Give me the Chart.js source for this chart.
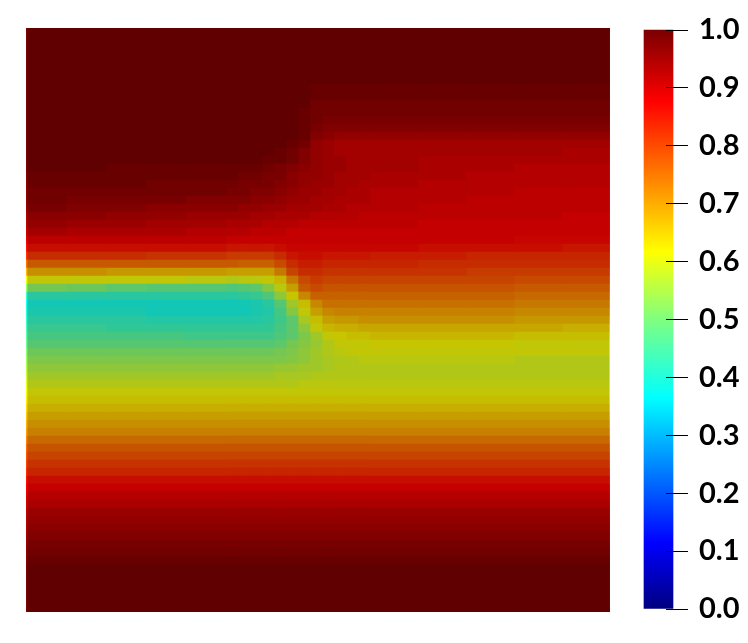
<!DOCTYPE html>
<html>
<head>
<meta charset="utf-8">
<script src="https://cdn.jsdelivr.net/npm/chart.js@4"></script>
<style>
    html, body { margin: 0; background: #fff; }
    canvas { position: absolute; }
    #field { left: 26px; top: 28px; }
    #colorBar { left: 630px; top: 10px; }
</style>
</head>
<body>
<canvas id="field" width="584" height="584"></canvas>
<canvas id="colorBar" width="118" height="620"></canvas>
<script>
// widths of the field columns, narrow ones sit on the front between left and right part
const columnWidths = [40, 40, 40, 40, 40, 12, 12, 12, 12, 12, 12, 12, 12, 12, 12, 12, 12, 48, 48, 48, 48, 48];

// field values in percent, one row per 8px band from top to bottom
const fieldRows = [
    [100,100,100,100,100,100,100,100,100,100,100,100,100,100,100,100,100,100,100,100,100,100],
    [100,100,100,100,100,100,100,100,100,100,100,100,100,100,100,100,100,100,100,100,100,100],
    [100,100,100,100,100,100,100,100,100,100,100,100,100,100,100,100,100,100,100,100,100,100],
    [100,100,100,100,100,100,100,100,100,100,100,100,100,100,100,100,100,100,100,100,100,100],
    [100,100,100,100,100,100,100,100,100,100,100,100,100,100,100,100,100,100,100,100,100,100],
    [100,100,100,100,100,100,100,100,100,100,100,100,100,100,100,100,100,100,100,100,100,100],
    [100,100,100,100,100,100,100,100,100,100,100,100,100,100,100,100,100,100,100,100,100,100],
    [100,100,100,100,100,100,100,100,100,100,100,100,99,99,99,99,99,99,99,99,99,99],
    [100,100,100,100,100,100,100,100,100,100,100,100,99,99,99,99,99,99,99,99,99,99],
    [100,100,100,100,100,100,100,100,100,100,100,100,98,98,98,98,98,98,98,98,98,98],
    [100,100,100,100,100,100,100,100,100,100,100,99,98,98,98,98,98,98,98,98,98,98],
    [100,100,100,100,100,100,100,100,100,100,100,99,98,97,97,97,97,97,97,97,97,97],
    [100,100,100,100,100,100,100,100,100,100,100,99,97,96,96,96,96,96,96,96,96,96],
    [100,100,100,100,100,100,100,100,100,100,100,99,96,95,94,94,94,94,94,94,94,94],
    [100,100,100,100,100,100,100,100,100,100,99,98,94,93,92,92,92,92,92,92,92,92],
    [100,100,100,100,100,100,100,100,100,99,98,96,94,93,92,92,92,92,92,92,92,91],
    [100,100,100,100,100,100,100,100,99,99,98,96,94,93,93,92,92,92,91,91,91,91],
    [100,100,99,99,99,99,99,99,98,97,96,95,94,93,93,92,92,92,91,91,90,90],
    [99,99,99,99,99,99,98,98,97,97,95,94,94,93,92,92,92,91,91,90,90,90],
    [99,99,99,98,98,98,97,97,97,96,95,94,93,93,92,92,91,91,90,90,90,90],
    [98,98,98,98,98,97,97,96,96,95,94,93,93,92,92,91,91,90,90,90,89,89],
    [98,97,97,97,96,96,96,95,95,94,93,93,92,92,91,91,91,90,90,89,89,89],
    [97,96,96,95,95,95,94,94,93,93,92,92,92,91,91,90,90,90,89,89,89,89],
    [95,95,94,94,93,93,93,92,92,91,91,91,90,90,90,90,89,89,89,89,89,88],
    [94,93,93,92,92,91,91,91,90,90,90,89,89,89,89,89,89,89,88,88,88,88],
    [92,91,91,91,90,90,90,89,89,89,88,88,88,88,88,88,88,88,88,88,88,88],
    [89,89,89,89,89,88,88,88,88,88,88,88,88,88,88,88,88,88,88,88,87,87],
    [86,86,86,86,86,85,85,85,85,86,87,87,87,87,87,87,87,87,86,86,86,85],
    [82,82,82,81,81,80,80,80,80,82,85,86,86,85,85,85,85,84,84,83,83,83],
    [76,76,76,76,76,76,75,75,75,78,82,84,84,83,83,83,83,83,82,82,82,82],
    [69,69,68,68,68,67,67,67,67,72,79,82,82,81,81,81,81,81,81,80,80,80],
    [61,61,61,61,60,59,60,60,61,64,72,78,80,79,79,79,79,79,79,79,78,78],
    [52,51,49,48,48,47,48,49,54,60,67,76,78,77,77,77,77,77,77,77,76,76],
    [42,42,42,42,42,42,43,44,47,55,62,70,75,75,75,75,75,75,75,75,74,74],
    [39,39,39,39,39,39,39,40,42,48,57,63,70,73,73,73,73,73,73,73,72,72],
    [40,40,40,39,39,39,39,40,41,46,54,61,67,70,71,71,71,71,71,71,70,70],
    [42,42,42,41,41,41,41,41,42,45,49,58,63,67,68,68,69,69,69,69,68,68],
    [44,44,43,43,43,43,43,43,43,46,49,55,61,64,65,65,66,66,66,66,66,65],
    [46,46,46,46,45,45,45,45,45,47,49,53,57,61,62,63,63,64,64,64,63,63],
    [48,48,48,48,48,48,48,48,48,49,52,54,56,59,61,61,61,62,62,62,61,61],
    [51,51,51,51,51,51,51,51,51,52,53,55,57,59,60,61,61,61,61,61,61,61],
    [53,53,53,53,53,53,53,53,53,53,54,55,57,58,59,59,60,60,60,60,59,59],
    [55,55,55,55,55,55,55,55,55,56,56,57,57,58,59,59,59,59,59,59,59,59],
    [57,57,57,57,57,57,57,57,57,58,58,58,59,59,59,59,59,59,59,59,59,59],
    [59,59,59,59,59,59,59,59,59,59,59,60,60,60,60,60,60,60,60,60,60,60],
    [61,61,61,61,61,61,61,61,61,61,61,61,61,61,61,61,61,61,61,61,61,61],
    [63,63,63,63,63,63,63,63,63,63,63,63,63,63,63,63,63,63,63,63,63,63],
    [65,65,65,65,65,65,65,65,65,65,65,65,65,65,65,65,65,65,65,65,65,65],
    [67,67,67,67,67,67,67,67,67,67,67,67,67,67,67,67,67,67,67,67,67,67],
    [69,69,69,69,69,69,69,69,69,69,69,69,69,69,69,69,69,69,69,69,69,69],
    [71,71,71,71,71,71,71,71,71,71,71,71,71,71,71,71,71,71,71,71,71,71],
    [74,74,74,74,74,74,74,74,74,74,74,74,74,74,74,74,74,74,74,74,74,74],
    [77,77,77,77,77,77,77,77,77,77,77,77,77,77,77,77,77,77,77,77,77,77],
    [79,79,79,79,79,79,79,79,79,79,79,79,79,79,79,79,79,79,79,79,79,79],
    [81,81,81,81,81,81,81,81,81,81,81,81,81,81,81,81,81,81,81,81,81,81],
    [83,83,83,83,83,83,83,83,83,83,83,83,83,83,83,83,83,83,83,83,83,83],
    [86,86,86,86,86,86,86,86,86,86,86,86,86,86,86,86,86,86,86,86,86,86],
    [88,88,88,88,88,88,88,88,88,88,88,88,88,88,88,88,88,88,88,88,88,88],
    [90,90,90,90,90,90,90,90,90,90,90,90,90,90,90,90,90,90,90,90,90,90],
    [91,91,91,91,91,91,91,91,91,91,91,91,91,91,91,91,91,91,91,91,91,91],
    [93,93,93,93,93,93,93,93,93,93,93,93,93,93,93,93,93,93,93,93,93,93],
    [94,94,94,94,94,94,94,94,94,94,94,94,94,94,94,94,94,94,94,94,94,94],
    [95,95,95,95,95,95,95,95,95,95,95,95,95,95,95,95,95,95,95,95,95,95],
    [96,96,96,96,96,96,96,96,96,96,96,96,96,96,96,96,96,96,96,96,96,96],
    [97,97,97,97,97,97,97,97,97,97,97,97,97,97,97,97,97,97,97,97,97,97],
    [98,98,98,98,98,98,98,98,98,98,98,98,98,98,98,98,98,98,98,98,98,98],
    [99,99,99,99,99,99,99,99,99,99,99,99,99,99,99,99,99,99,99,99,99,99],
    [100,100,100,100,100,100,100,100,100,100,100,100,100,100,100,100,100,100,100,100,100,100],
    [100,100,100,100,100,100,100,100,100,100,100,100,100,100,100,100,100,100,100,100,100,100],
    [100,100,100,100,100,100,100,100,100,100,100,100,100,100,100,100,100,100,100,100,100,100],
    [100,100,100,100,100,100,100,100,100,100,100,100,100,100,100,100,100,100,100,100,100,100],
    [100,100,100,100,100,100,100,100,100,100,100,100,100,100,100,100,100,100,100,100,100,100],
    [100,100,100,100,100,100,100,100,100,100,100,100,100,100,100,100,100,100,100,100,100,100]
];

const tickLabels = ['0.0', '0.1', '0.2', '0.3', '0.4', '0.5', '0.6', '0.7', '0.8', '0.9', '1.0'];

const rampValues = [0, 0.114, 0.365, 0.5, 0.617, 0.877, 1];
const rampColors = [[0, 0, 128], [0, 0, 255], [0, 255, 255], [128, 255, 128], [255, 255, 0], [255, 0, 0], [123, 0, 0]];

// the surface is lit, so the field is darker than the color bar
const fieldShade = 0.78;
const edgeWidth = 1;

function rampColor(value, shade) {
    let i = 0;
    while (i < rampValues.length - 2 && value > rampValues[i + 1]) i++;
    const t = (value - rampValues[i]) / (rampValues[i + 1] - rampValues[i]);
    const rgb = rampColors[i].map((c, k) => Math.round((c + (rampColors[i + 1][k] - c) * t) * shade));
    return `rgb(${rgb[0]},${rgb[1]},${rgb[2]})`;
}

Chart.defaults.animation = false;
Chart.defaults.plugins.legend.display = false;
Chart.defaults.plugins.tooltip.enabled = false;

const lastColumn = columnWidths.length - 1;
const fieldDatasets = [];

// unlit one pixel edge on the left
fieldDatasets.push({
    data: fieldRows.map(() => edgeWidth),
    backgroundColor: fieldRows.map(row => rampColor(row[0] / 100, 1))
});
columnWidths.forEach((width, c) => {
    let w = width;
    if (c === 0 || c === lastColumn) w -= edgeWidth;
    fieldDatasets.push({
        data: fieldRows.map(() => w),
        backgroundColor: fieldRows.map(row => rampColor(row[c] / 100, fieldShade))
    });
});
fieldDatasets.push({
    data: fieldRows.map(() => edgeWidth),
    backgroundColor: fieldRows.map(row => rampColor(row[lastColumn] / 100, 1))
});

new Chart(document.getElementById('field'), {
    type: 'bar',
    data: {
        labels: fieldRows.map((row, r) => r),
        datasets: fieldDatasets
    },
    options: {
        indexAxis: 'y',
        responsive: false,
        layout: { padding: 0 },
        datasets: { bar: { barPercentage: 1, categoryPercentage: 1, borderWidth: 0 } },
        scales: {
            x: { stacked: true, display: false, min: 0, max: columnWidths.reduce((a, b) => a + b, 0) },
            y: { stacked: true, display: false }
        }
    }
});

function barGradient(context) {
    const chart = context.chart;
    if (!chart.chartArea) return rampColor(1, 1);
    const y = chart.scales.y;
    const gradient = chart.ctx.createLinearGradient(0, y.getPixelForValue(0), 0, y.getPixelForValue(1));
    rampValues.forEach(v => gradient.addColorStop(v, rampColor(v, 1)));
    return gradient;
}

new Chart(document.getElementById('colorBar'), {
    type: 'bar',
    data: {
        labels: ['value'],
        datasets: [{
            data: [[0, 1]],
            backgroundColor: barGradient,
            barThickness: 29,
            borderWidth: 0,
            clip: false
        }]
    },
    options: {
        responsive: false,
        layout: { padding: { left: 21, top: 20, bottom: 21, right: 0 } },
        scales: {
            x: { display: false },
            y: {
                position: 'right',
                min: 0,
                max: 1,
                afterFit: scale => {
                    scale.width = 82;
                    scale.paddingTop = 0;
                    scale.paddingBottom = 0;
                },
                grid: { drawOnChartArea: false, drawTicks: true, tickLength: 22, tickColor: '#000', tickWidth: 1, z: 1 },
                border: { display: false },
                ticks: {
                    stepSize: 0.1,
                    autoSkip: false,
                    color: '#000',
                    padding: 11,
                    font: { family: 'Lato', size: 29, weight: 'bold' },
                    callback: (value, index) => tickLabels[index]
                }
            }
        }
    }
});
</script>
</body>
</html>
